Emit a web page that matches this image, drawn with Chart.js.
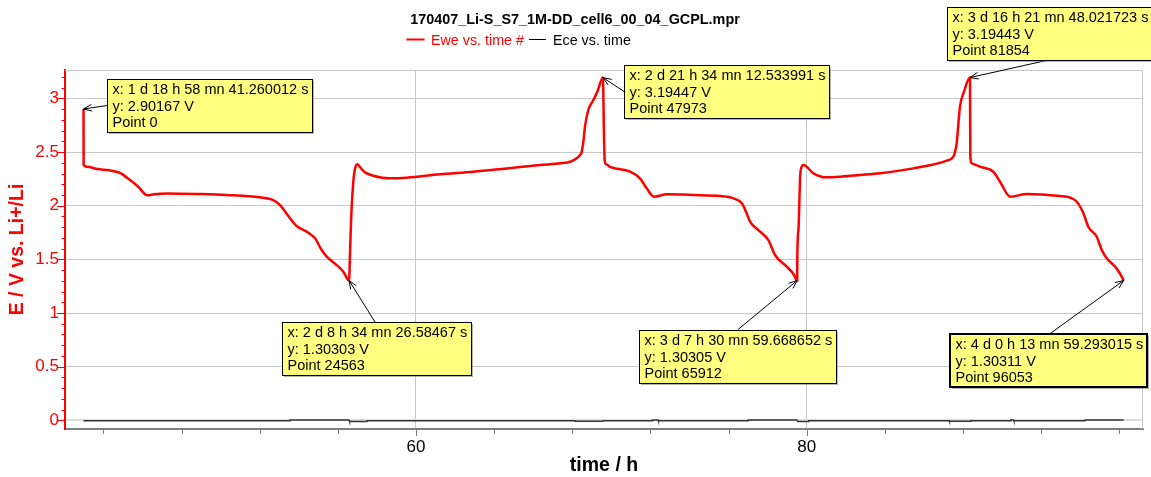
<!DOCTYPE html>
<html><head><meta charset="utf-8">
<script src="https://cdn.jsdelivr.net/npm/chart.js@4.4.1/dist/chart.umd.min.js"></script>
<style>html,body{margin:0;padding:0;background:#fff;overflow:hidden}</style>
</head><body>
<canvas id="c" width="1151" height="477"></canvas>
<script>
const chartTitle = "170407_Li-S_S7_1M-DD_cell6_00_04_GCPL.mpr";
const seriesNames = ["Ewe vs. time #", "Ece vs. time"];
const xAxisTitle = "time / h";
const yAxisTitle = "E / V vs. Li+/Li";

// Ewe (red) — time in h, potential in V
const eweTime = [
 42.978, 42.985, 43.14, 43.70, 44.30, 44.84, 45.36, 45.78, 46.24, 46.60, 47.24, 48.94, 50.31, 52.01, 52.69, 53.04, 53.55, 53.89, 54.49, 54.83, 55.17, 55.43, 55.94, 56.28, 56.574,
 56.62, 56.68, 56.78, 56.86, 56.93, 57.00, 57.20, 57.39, 57.81, 58.67, 59.52, 61.23, 62.93, 64.64, 66.35, 67.40, 67.90, 68.23, 68.40, 68.48, 68.57, 68.65, 68.82, 69.08, 69.30, 69.570,
 69.62, 69.66, 69.75, 69.93, 70.96, 71.47, 71.81, 72.19, 72.84, 74.20, 75.57, 76.25, 76.68, 76.93, 77.10, 77.53, 78.04, 78.38, 78.98, 79.30, 79.517,
 79.52, 79.58, 79.63, 79.66, 79.70, 79.84, 80.35, 80.95, 81.80, 82.73, 83.76, 85.46, 87.17, 87.51, 87.62, 87.68, 87.85, 88.05, 88.363,
 88.37, 88.38, 88.45, 88.88, 89.56, 89.90, 90.42, 91.27, 92.97, 93.50, 93.83, 94.17, 94.42, 94.85, 95.11, 95.36, 95.79, 96.00, 96.233
];
const eweVolt = [
 2.90167, 2.38, 2.363, 2.342, 2.330, 2.307, 2.24, 2.177, 2.097, 2.108, 2.115, 2.109, 2.10, 2.078, 2.053, 2.006, 1.883, 1.811, 1.748, 1.696, 1.587, 1.525, 1.447, 1.385, 1.30303,
 1.55, 1.88, 2.20, 2.33, 2.375, 2.386, 2.345, 2.311, 2.28, 2.255, 2.261, 2.293, 2.317, 2.348, 2.379, 2.395, 2.41, 2.442, 2.473, 2.50, 2.60, 2.736, 2.892, 2.985, 3.07, 3.19447,
 2.70, 2.42, 2.385, 2.363, 2.317, 2.255, 2.162, 2.084, 2.106, 2.10, 2.09, 2.069, 2.022, 1.929, 1.851, 1.773, 1.68, 1.541, 1.432, 1.37, 1.30305,
 1.49, 1.773, 2.053, 2.24, 2.333, 2.379, 2.302, 2.265, 2.272, 2.286, 2.302, 2.348, 2.42, 2.457, 2.52, 2.58, 2.923, 3.06, 3.19443,
 2.8, 2.45, 2.395, 2.363, 2.317, 2.224, 2.084, 2.109, 2.09, 2.075, 2.037, 1.929, 1.804, 1.711, 1.587, 1.51, 1.432, 1.38, 1.30311
];

// Ece (black)
const eceTime = [42.978, 53.55, 53.56, 56.57, 56.60, 57.49, 57.50, 68.14, 68.15, 69.57, 69.58, 72.10, 72.11, 72.40, 72.41, 77.00, 77.01, 79.49, 79.55, 80.10, 80.11, 87.30, 87.31, 88.40, 88.41, 90.45, 90.46, 90.60, 90.61, 94.25, 94.26, 96.233];
const eceVolt = [-0.004, -0.004, 0.004, 0.004, -0.012, -0.012, -0.004, -0.004, -0.009, -0.009, -0.004, -0.004, 0.002, 0.002, -0.004, -0.004, 0.003, 0.003, -0.012, -0.012, -0.004, -0.004, -0.009, -0.009, -0.004, -0.004, 0.002, 0.002, -0.004, -0.004, 0.003, 0.003];

// axes ticks
const xTicks = [60, 80];
const xMinorTicks = [44, 48, 52, 56, 60, 64, 68, 72, 76, 80, 84, 88, 92, 96];
const yTicks = [0, 0.5, 1, 1.5, 2, 2.5, 3];
const yMinorTicks = [0,0.1,0.2,0.3,0.4,0.5,0.6,0.7,0.8,0.9,1,1.1,1.2,1.3,1.4,1.5,1.6,1.7,1.8,1.9,2,2.1,2.2,2.3,2.4,2.5,2.6,2.7,2.8,2.9,3,3.1,3.2];

// marked points (cursor labels)
const markTime = [42.97813, 56.57405, 69.57015, 79.51658, 88.36334, 96.23314];
const markVolt = [2.90167, 1.30303, 3.19447, 1.30305, 3.19443, 1.30311];
const markX = ["x: 1 d 18 h 58 mn 41.260012 s", "x: 2 d 8 h 34 mn 26.58467 s", "x: 2 d 21 h 34 mn 12.533991 s", "x: 3 d 7 h 30 mn 59.668652 s", "x: 3 d 16 h 21 mn 48.021723 s", "x: 4 d 0 h 13 mn 59.293015 s"];
const markY = ["y: 2.90167 V", "y: 1.30303 V", "y: 3.19447 V", "y: 1.30305 V", "y: 3.19443 V", "y: 1.30311 V"];
const markP = ["Point 0", "Point 24563", "Point 47973", "Point 65912", "Point 81854", "Point 96053"];
// label box placement relative to the marked point (px) and arrow attachment side
const boxDX = [23, -67.5, 21.5, -158, -23, -174];
const boxDY = [-30, 41, -13, 49, -71, 54];
const boxSide = ['left', 'top', 'left', 'top', 'bottom', 'top'];
const boxAnchor = [0, 93, 0, 98.5, 101.5, 99.5];
const boxBorder = [1, 1, 1, 1, 1, 2];

const FONT = '"Liberation Sans", Arial, Helvetica, sans-serif';

function arrowHead(c, x0, y0, x1, y1) {
  const ang = Math.atan2(y1 - y0, x1 - x0), L = 9, s = 0.38;
  c.beginPath();
  c.moveTo(x1 - L * Math.cos(ang - s), y1 - L * Math.sin(ang - s));
  c.lineTo(x1, y1);
  c.lineTo(x1 - L * Math.cos(ang + s), y1 - L * Math.sin(ang + s));
  c.stroke();
}

const decor = {
  id: 'decor',
  beforeDraw(chart) {
    const c = chart.ctx; c.save(); c.fillStyle = '#fff'; c.fillRect(0, 0, chart.width, chart.height); c.restore();
  },
  afterDraw(chart) {
    const c = chart.ctx, xs = chart.scales.x, ys = chart.scales.y, a = chart.chartArea;
    c.save();
    // frame top / right
    c.strokeStyle = '#c8c8c8'; c.lineWidth = 1;
    c.beginPath(); c.moveTo(a.left, a.top + 0.5); c.lineTo(a.right - 0.5, a.top + 0.5); c.lineTo(a.right - 0.5, a.bottom); c.stroke();
    // y ticks (major + minor)
    c.strokeStyle = '#ff0000'; c.lineWidth = 1;
    yMinorTicks.forEach(v => {
      const p = Math.round(ys.getPixelForValue(v)) + 0.5;
      if (p < a.top) return;
      const len = yTicks.includes(v) ? 8 : 3.5;
      c.beginPath(); c.moveTo(a.left - len, p); c.lineTo(a.left - 1, p); c.stroke();
    });
    // x ticks
    c.strokeStyle = '#808080';
    xMinorTicks.forEach(v => {
      const p = Math.round(xs.getPixelForValue(v)) + 0.5;
      const len = xTicks.includes(v) ? 6 : 4;
      c.beginPath(); c.moveTo(p, a.bottom + 1); c.lineTo(p, a.bottom + 1 + len); c.stroke();
    });
    // title
    c.fillStyle = '#000'; c.textAlign = 'center'; c.textBaseline = 'alphabetic';
    c.font = 'bold 14.4px ' + FONT;
    c.fillText(chartTitle, 575, 24);
    // legend
    c.textAlign = 'left'; c.font = '14.3px ' + FONT;
    c.strokeStyle = '#ff0000'; c.lineWidth = 2;
    c.beginPath(); c.moveTo(406.5, 39.5); c.lineTo(424.5, 39.5); c.stroke();
    c.fillStyle = '#ff0000'; c.fillText(seriesNames[0], 431, 44.5);
    c.strokeStyle = '#000'; c.lineWidth = 1;
    c.beginPath(); c.moveTo(529, 39.5); c.lineTo(546, 39.5); c.stroke();
    c.fillStyle = '#000'; c.fillText(seriesNames[1], 553, 44.5);
    // cursor labels
    c.font = '14.5px ' + FONT;
    markTime.forEach((t, i) => {
      const px = xs.getPixelForValue(t), py = ys.getPixelForValue(markVolt[i]);
      const lines = [markX[i], markY[i], markP[i]];
      const w = Math.round(Math.max(...lines.map(s => c.measureText(s).width)) + 9);
      const h = 53;
      const bx = Math.round(px + boxDX[i]), by = Math.round(py + boxDY[i]);
      let ax, ay;
      if (boxSide[i] === 'left') { ax = bx; ay = by + h / 2; }
      else if (boxSide[i] === 'top') { ax = bx + boxAnchor[i]; ay = by; }
      else { ax = bx + boxAnchor[i]; ay = by + h; }
      c.strokeStyle = '#000'; c.lineWidth = 1;
      c.beginPath(); c.moveTo(ax, ay); c.lineTo(px, py); c.stroke();
      arrowHead(c, ax, ay, px, py);
      c.fillStyle = 'rgba(120,120,120,0.55)';
      c.fillRect(bx + 2, by + 2, w, h);
      c.fillStyle = '#ffff80';
      c.fillRect(bx, by, w, h);
      c.lineWidth = boxBorder[i];
      c.strokeStyle = '#000';
      const o = boxBorder[i] === 1 ? 0.5 : 0;
      c.strokeRect(bx + o, by + o, w, h);
      c.fillStyle = '#000'; c.textBaseline = 'middle'; c.textAlign = 'left';
      lines.forEach((s, k) => c.fillText(s, bx + 5.5, by + 11 + k * 16.5));
    });
    c.restore();
  }
};

new Chart(document.getElementById('c'), {
  type: 'line',
  data: {
    datasets: [
      { label: seriesNames[0], data: eweTime.map((t, i) => ({ x: t, y: eweVolt[i] })), borderColor: '#ff0000', backgroundColor: '#ff0000', borderWidth: 2.5, pointRadius: 0, cubicInterpolationMode: 'monotone', order: 0 },
      { label: seriesNames[1], data: eceTime.map((t, i) => ({ x: t, y: eceVolt[i] })), borderColor: '#333333', backgroundColor: '#333333', borderWidth: 1.5, pointRadius: 0, tension: 0, order: 1 }
    ]
  },
  options: {
    responsive: false, animation: false, devicePixelRatio: 1,
    layout: { padding: { top: 70, right: 8, bottom: 0, left: 0 } },
    plugins: { legend: { display: false }, title: { display: false }, tooltip: { enabled: false } },
    scales: {
      x: {
        type: 'linear', min: 42.03, max: 97.22,
        afterFit(s) { s.height = 48; },
        afterBuildTicks(s) { s.ticks = xTicks.map(v => ({ value: v })); },
        grid: { color: '#c8c8c8', lineWidth: 1, drawTicks: false },
        border: { color: '#808080', width: 2 },
        ticks: { color: '#000', font: { family: FONT, size: 17 }, padding: 8, autoSkip: false, maxRotation: 0, callback: v => String(v) },
        title: { display: true, text: xAxisTitle, color: '#000', font: { family: FONT, size: 19.5, weight: 'bold' }, padding: { top: 0, bottom: 0 } }
      },
      y: {
        type: 'linear', min: -0.081, max: 3.265,
        afterFit(s) { s.width = 65; },
        afterBuildTicks(s) { s.ticks = yTicks.map(v => ({ value: v })); },
        grid: { color: ctx => (ctx.tick && ctx.tick.value === 0) ? '#dcdcdc' : '#c8c8c8', lineWidth: ctx => (ctx.tick && ctx.tick.value === 0) ? 2 : 1, drawTicks: false },
        border: { color: '#ff0000', width: 2 },
        ticks: { color: '#ff0000', font: { family: FONT, size: 17 }, padding: 6, autoSkip: false, callback: v => String(v) },
        title: { display: true, text: yAxisTitle, color: '#ff0000', font: { family: FONT, size: 19.5, weight: 'bold' }, padding: { top: 6, bottom: 0 } }
      }
    }
  },
  plugins: [decor]
});
</script>
</body></html>
